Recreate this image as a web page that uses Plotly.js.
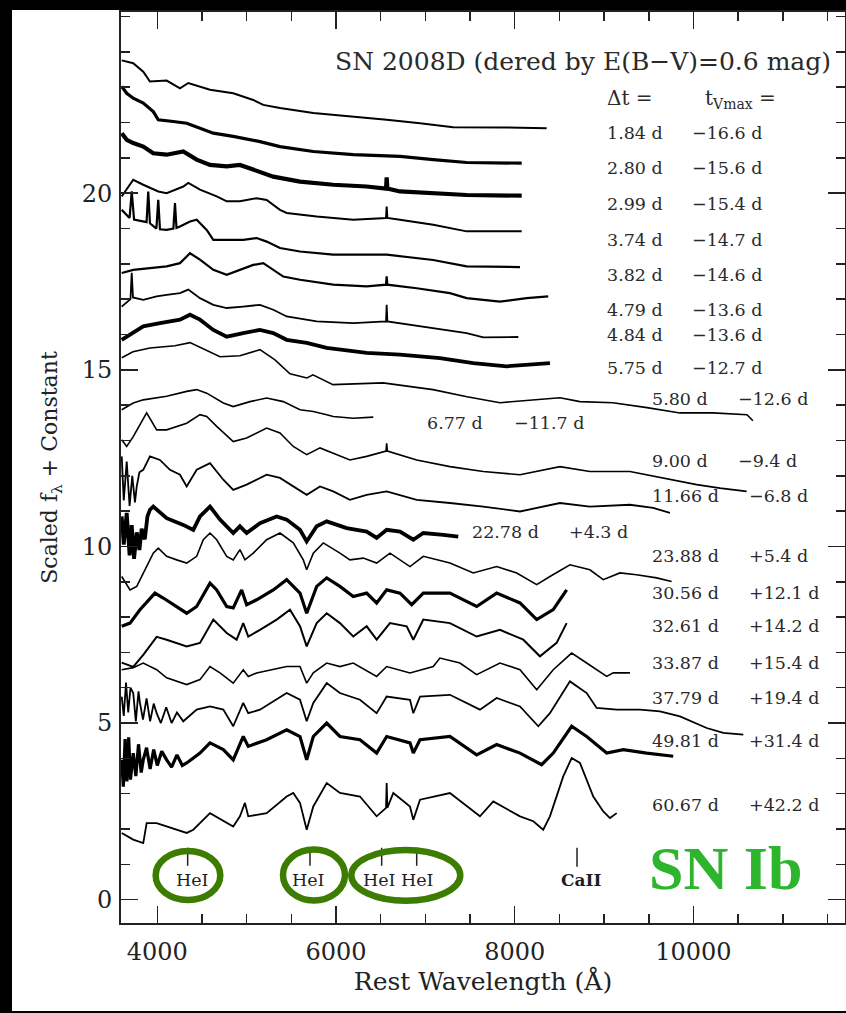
<!DOCTYPE html>
<html>
<head>
<meta charset="utf-8">
<script src="https://cdn.plot.ly/plotly-3.0.1.min.js"></script>
<style>
  html, body { margin: 0; padding: 0; background: #000; }
  #plot { position: absolute; left: 12px; top: 10px; width: 834px; height: 1001px; background: #fff; }
</style>
</head>
<body>
<div id="plot"></div>
<script>
// ---- spectra: rest wavelength (Å) and scaled flux + constant ----
const w_1_84 = [3602,3731,3843,3918,4105,4254,4347,4590,4850,5074,5186,5373,5746,6193,6567,6940,7312,7900,8357];
const f_1_84 = [23.76,23.68,23.44,23.16,23.19,22.97,23.12,22.93,22.83,22.64,22.50,22.41,22.27,22.17,22.08,21.98,21.87,21.86,21.84];

const w_2_80 = [3602,3658,3731,3843,3955,4011,4179,4329,4478,4627,4850,5149,5373,5746,6193,6716,7088,7462,8078];
const f_2_80 = [23.02,22.83,22.69,22.55,22.31,22.08,22.03,21.98,21.84,21.70,21.61,21.46,21.32,21.18,21.09,21.04,20.95,20.87,20.85];

const w_2_99 = [3602,3658,3731,3843,3955,4105,4291,4441,4590,4777,4925,5149,5298,5597,5969,6343,6560,6567,6575,6716,7088,7462,8078];
const f_2_99 = [21.70,21.51,21.42,21.32,21.13,21.09,21.18,20.95,20.80,20.76,20.80,20.61,20.47,20.33,20.24,20.19,20.13,20.45,20.13,20.05,20.00,19.95,19.93];

const w_3_74 = [3602,3676,3731,3843,4011,4105,4291,4347,4478,4665,4777,4925,5112,5224,5373,5448,5784,6193,6560,6567,6575,6716,7088,7462,8078];
const f_3_74 = [19.91,20.19,20.38,20.24,20.05,20.00,20.19,20.29,20.10,19.91,19.77,19.77,19.86,19.81,19.53,19.44,19.34,19.25,19.30,19.62,19.30,19.25,19.11,18.92,18.92];

const w_3_82 = [3602,3690,3714,3740,3880,3899,3918,3990,4011,4030,4105,4180,4198,4215,4254,4366,4441,4553,4627,4777,4962,5112,5224,5373,5597,5969,6343,6567,7088,7462,8059];
const f_3_82 = [19.53,19.30,20.05,19.25,19.18,20.05,19.15,19.00,19.81,18.98,18.96,19.00,19.72,19.02,19.06,19.20,19.25,18.96,18.68,18.68,18.68,18.73,18.63,18.45,18.35,18.26,18.26,18.26,18.11,17.93,17.91];

const w_4_79 = [3602,3731,3918,4105,4254,4366,4478,4627,4777,4925,5074,5186,5298,5410,5597,5969,6343,6560,6567,6575,6903,7275,7462,7835,8134,8375];
const f_4_79 = [17.74,17.83,17.88,17.93,18.02,18.30,18.12,17.83,17.69,17.83,17.97,18.02,17.83,17.64,17.55,17.41,17.36,17.41,17.65,17.41,17.31,17.17,17.03,16.93,17.03,17.08];

const w_4_84 = [3602,3700,3714,3728,3843,3993,4105,4254,4347,4478,4627,4777,4962,5149,5298,5448,5784,6193,6560,6567,6575,7088,7462,7648,8040];
const f_4_84 = [16.79,17.00,17.75,17.05,16.98,17.08,17.12,17.17,17.27,17.03,16.84,16.75,16.79,16.84,16.70,16.51,16.37,16.32,16.37,16.84,16.37,16.18,16.04,15.92,15.93];

const w_5_75 = [3602,3731,3843,4030,4254,4366,4478,4627,4777,4962,5149,5298,5448,5672,5896,6343,6716,7163,7536,7910,8394];
const f_5_75 = [15.85,16.04,16.23,16.32,16.42,16.56,16.42,16.13,15.94,16.04,16.13,16.04,15.85,15.76,15.62,15.48,15.43,15.33,15.19,15.10,15.19];

const w_5_80 = [3602,3728,3918,4198,4366,4534,4702,4925,5149,5317,5485,5675,5742,5966,6526,7085,7466,7835,8204,8506,8730,9099,9480,9849,10218,10599,10665];
const f_5_80 = [15.34,15.51,15.62,15.68,15.77,15.57,15.37,15.40,15.57,15.28,14.89,14.77,14.86,14.58,14.63,14.44,14.24,14.07,14.15,14.21,14.10,14.07,13.93,13.78,13.78,13.73,13.56];

const w_6_77 = [3602,3731,3843,4105,4329,4441,4553,4739,4850,5037,5224,5410,5597,5746,5896,5969,6193,6417];
const f_6_77 = [13.87,14.06,14.15,14.25,14.39,14.44,14.34,14.06,13.96,14.10,14.20,14.10,13.87,13.82,13.73,13.68,13.63,13.66];

const w_9_00 = [3602,3658,3731,3843,3881,3993,4105,4329,4478,4553,4665,4850,5000,5224,5373,5522,5672,5821,5969,6156,6343,6560,6567,6575,6903,7275,7648,8059,8506,8841,9289,9662,10036,10296,10595];
const f_9_00 = [13.02,12.83,13.11,13.59,13.78,13.30,13.30,13.49,13.73,13.68,13.40,12.97,13.07,13.35,13.21,12.83,12.60,12.79,12.64,12.45,12.55,12.70,12.92,12.70,12.45,12.26,12.12,12.03,12.26,12.12,12.12,11.94,11.75,11.65,11.56];

const w_11_66 = [3602,3625,3658,3690,3720,3750,3770,3800,3843,3880,3918,4030,4142,4254,4329,4441,4590,4739,4850,5000,5224,5373,5522,5672,5821,5969,6156,6343,6567,6903,7275,7648,8059,8506,8841,9289,9550,9737];
const f_11_66 = [12.55,11.30,12.40,11.15,12.00,11.25,11.70,12.10,12.17,12.35,12.55,12.45,12.17,12.03,11.70,12.17,12.36,11.89,11.60,11.75,12.03,11.94,11.70,11.46,11.70,11.56,11.32,11.46,11.56,11.32,11.23,11.13,10.99,11.23,11.13,11.18,11.09,10.95];

const w_22_78 = [3602,3625,3658,3690,3714,3740,3770,3800,3825,3860,3890,3918,3955,4105,4291,4403,4478,4590,4702,4850,4925,5000,5149,5336,5448,5597,5672,5784,5896,6119,6343,6455,6567,6716,6865,6977,7200,7368];
const f_22_78 = [10.85,10.05,10.95,9.75,10.60,9.65,10.40,9.90,10.50,10.20,10.85,11.04,11.13,10.80,10.61,10.47,10.85,11.13,10.76,10.38,10.57,10.38,10.66,10.85,10.76,10.47,10.14,10.57,10.71,10.52,10.42,10.24,10.47,10.42,10.19,10.38,10.33,10.28];

const w_23_88 = [3602,3695,3770,3843,3955,4011,4105,4217,4329,4441,4515,4590,4665,4777,4850,4925,4981,5074,5224,5373,5522,5634,5672,5746,5858,6044,6156,6305,6455,6604,6828,6977,7275,7536,7798,8022,8246,8394,8618,8841,8991,9177,9364,9588,9756];
const f_23_88 = [9.15,8.77,8.87,9.25,9.81,9.95,9.72,9.62,9.53,9.72,10.19,10.38,10.19,9.72,9.62,9.91,9.62,9.81,10.19,10.38,10.10,9.62,9.34,9.81,10.10,9.81,9.62,9.67,9.53,9.81,9.43,9.72,9.53,9.25,9.43,9.25,8.92,9.15,9.48,9.34,9.06,9.25,9.20,9.11,9.01];

const w_30_56 = [3602,3695,3806,3974,4067,4179,4329,4441,4553,4590,4665,4777,4850,4944,5000,5112,5298,5448,5597,5672,5784,5896,6044,6193,6343,6455,6567,6716,6847,6977,7275,7574,7798,8059,8246,8431,8581];
const f_30_56 = [7.74,7.83,8.21,8.68,8.54,8.35,8.11,8.30,8.77,8.96,8.77,8.30,8.26,8.77,8.35,8.49,8.77,9.06,8.68,8.11,8.87,9.11,8.87,8.58,8.68,8.40,8.77,8.68,8.35,8.68,8.68,8.30,8.68,8.40,7.93,8.21,8.77];

const w_32_61 = [3602,3731,3843,3993,4105,4329,4478,4627,4777,4888,4962,5018,5149,5336,5485,5597,5672,5784,5896,6044,6193,6343,6455,6604,6791,6865,6977,7275,7574,7835,8096,8282,8469,8581];
const f_32_61 = [6.71,6.59,6.93,7.44,7.36,7.17,7.27,7.93,7.55,7.36,7.83,7.45,7.64,7.93,8.21,7.74,7.17,7.83,8.11,7.83,7.45,7.74,7.36,7.83,7.74,7.36,7.93,7.83,7.45,7.64,7.36,6.89,7.27,7.83];

const w_33_87 = [3602,3731,3843,3993,4105,4329,4478,4590,4702,4850,4962,5018,5112,5448,5597,5672,5746,5896,6044,6193,6455,6567,6828,7088,7163,7387,7574,7835,8059,8246,8431,8637,8805,9029,9103,9290];
const f_33_87 = [6.51,6.57,6.70,6.51,6.28,6.09,6.23,6.60,6.42,6.13,6.51,6.32,6.42,6.60,6.60,6.13,6.42,6.70,6.60,6.70,6.32,6.60,6.42,6.60,6.84,6.70,6.37,6.70,6.51,5.94,6.51,6.98,6.70,6.32,6.42,6.42];

const w_37_79 = [3602,3625,3650,3675,3700,3731,3760,3790,3806,3840,3880,3920,3960,3993,4040,4100,4160,4220,4291,4441,4590,4739,4850,4962,5018,5149,5448,5597,5672,5746,5896,6044,6268,6455,6567,6828,6865,6940,7275,7611,7798,8059,8264,8394,8618,8805,8917,9141,9402,9625,9849,10148,10334,10558];
const f_37_79 = [5.75,5.20,6.15,5.30,6.00,5.85,5.05,5.90,5.57,5.10,5.70,5.05,5.55,5.28,5.00,5.45,5.00,5.30,5.05,5.38,5.47,5.38,4.91,5.57,5.28,5.38,5.85,5.66,5.05,5.57,6.13,5.85,5.66,5.28,5.75,5.66,5.28,5.75,5.80,5.38,5.71,5.47,4.91,5.28,6.18,5.85,5.43,5.38,5.38,5.33,5.19,4.86,4.72,4.67];

const w_49_81 = [3602,3620,3640,3660,3680,3700,3731,3760,3790,3820,3843,3880,3920,3960,4000,4050,4105,4160,4220,4280,4329,4478,4590,4739,4850,4962,5018,5224,5448,5597,5672,5746,5896,6044,6268,6455,6567,6828,6865,6940,7275,7574,7798,8059,8301,8431,8637,8805,9029,9215,9477,9774];
const f_49_81 = [3.96,3.20,4.55,3.35,4.60,3.40,4.15,3.50,4.40,3.60,3.96,4.30,3.70,4.25,3.80,4.20,3.96,3.75,4.10,3.80,3.87,4.15,4.44,4.25,3.96,4.62,4.34,4.53,4.81,4.62,3.96,4.62,5.00,4.62,4.53,4.15,4.62,4.44,4.15,4.53,4.62,4.10,4.39,4.15,3.82,4.15,4.91,4.62,4.15,4.25,4.15,4.06];

const w_60_67 = [3602,3731,3843,3881,3993,4105,4329,4403,4590,4850,4925,4981,5018,5224,5448,5522,5597,5672,5746,5896,6044,6268,6455,6560,6567,6575,6641,6828,6865,6940,7275,7611,7760,8059,8208,8319,8394,8543,8637,8730,8879,8991,9066,9141];
const f_60_67 = [1.89,1.70,1.60,2.17,2.17,2.07,1.89,1.98,2.45,2.07,2.36,2.74,2.36,2.45,2.92,3.02,2.74,1.98,2.64,3.30,3.02,2.92,2.36,2.60,3.30,2.60,3.02,2.64,2.26,2.83,3.02,2.36,2.78,2.36,2.22,1.98,2.36,3.49,4.01,3.87,2.92,2.50,2.31,2.45];

// ---- epoch labels ----
const dtLabels = ['1.84 d','2.80 d','2.99 d','3.74 d','3.82 d','4.79 d','4.84 d','5.75 d','5.80 d','6.77 d',
                  '9.00 d','11.66 d','22.78 d','23.88 d','30.56 d','32.61 d','33.87 d','37.79 d','49.81 d','60.67 d'];
const tmaxLabels = ['\u221216.6 d','\u221215.6 d','\u221215.4 d','\u221214.7 d','\u221214.6 d','\u221213.6 d','\u221213.6 d','\u221212.7 d','\u221212.6 d','\u221211.7 d',
                    '\u22129.4 d','\u22126.8 d','+4.3 d','+5.4 d','+12.1 d','+14.2 d','+15.4 d','+19.4 d','+31.4 d','+42.2 d'];

// ---- line identifications ----
const lineNames = ['HeI','HeI','HeI','HeI','CaII'];
const lineWaves = [4340, 5709, 6511, 6903, 8697];

// ---- axis ticks ----
const xTickVals = [4000, 6000, 8000, 10000];
const xTickText = ['4000', '6000', '8000', '10000'];
const yTickVals = [0, 5, 10, 15, 20];

// ================= drawing =================
const spectra = [
  [w_1_84, f_1_84], [w_2_80, f_2_80], [w_2_99, f_2_99], [w_3_74, f_3_74], [w_3_82, f_3_82],
  [w_4_79, f_4_79], [w_4_84, f_4_84], [w_5_75, f_5_75], [w_5_80, f_5_80], [w_6_77, f_6_77],
  [w_9_00, f_9_00], [w_11_66, f_11_66], [w_22_78, f_22_78], [w_23_88, f_23_88], [w_30_56, f_30_56],
  [w_32_61, f_32_61], [w_33_87, f_33_87], [w_37_79, f_37_79], [w_49_81, f_49_81], [w_60_67, f_60_67]
];
const lineWidths = [2.0,3.2,4.2,2.0,2.2, 2.2,1.8,3.8,1.6,1.6, 1.6,1.8,3.8,1.6,3.2, 2.0,1.6,1.8,3.2,1.8];

const traces = spectra.map((s, i) => ({
  type: 'scatter', mode: 'lines', x: s[0], y: s[1],
  line: { color: '#000', width: lineWidths[i] }, hoverinfo: 'skip', showlegend: false
}));

// label placement (layout)
const labX1 = [9010,9010,9010,9010,9010,9010,9010,9010,9511,6996,9511,9511,7499,9511,9511,9511,9511,9511,9511,9511];
const labX2 = [9960,9960,9960,9960,9960,9960,9960,9960,10475,7966,10475,10595,8588,10595,10595,10595,10595,10595,10595,10595];
const labY  = [21.70,20.71,19.70,18.68,17.69,16.70,15.99,15.05,14.17,13.49,12.41,11.42,10.40,9.72,8.68,7.74,6.70,5.71,4.48,2.69];

const serif = 'DejaVu Serif, serif';
const txtColor = '#2a2a2a';
const annotations = [];
dtLabels.forEach((t, i) => {
  annotations.push({ x: labX1[i], y: labY[i], xref: 'x', yref: 'y', text: t, showarrow: false,
    xanchor: 'left', yanchor: 'middle', font: { family: serif, size: 17.5, color: txtColor } });
  annotations.push({ x: labX2[i], y: labY[i], xref: 'x', yref: 'y', text: tmaxLabels[i], showarrow: false,
    xanchor: 'left', yanchor: 'middle', font: { family: serif, size: 17.5, color: txtColor } });
});
annotations.push({ x: 11561, y: 23.72, xref: 'x', yref: 'y', text: 'SN 2008D (dered by E(B\u2212V)=0.6 mag)',
  showarrow: false, xanchor: 'right', yanchor: 'middle', font: { family: serif, size: 25, color: txtColor } });
annotations.push({ x: 9010, y: 22.69, xref: 'x', yref: 'y', text: '\u0394t =', showarrow: false,
  xanchor: 'left', yanchor: 'middle', font: { family: serif, size: 20, color: txtColor } });
annotations.push({ x: 10105, y: 22.66, xref: 'x', yref: 'y', text: 't<sub>Vmax</sub> =', showarrow: false,
  xanchor: 'left', yanchor: 'middle', font: { family: serif, size: 20, color: txtColor } });

const lineTextX = [4394, 5687, 6492, 6917, 8737];
lineNames.forEach((n, i) => {
  annotations.push({ x: lineTextX[i], y: 0.57, xref: 'x', yref: 'y', text: n, showarrow: false,
    xanchor: 'center', yanchor: 'middle',
    font: { family: serif, size: n === 'CaII' ? 17 : 17.5, color: '#1e1e1e', weight: n === 'CaII' ? 'bold' : 'normal' } });
});
annotations.push({ x: 10359, y: 0.91, xref: 'x', yref: 'y', text: 'SN Ib', showarrow: false,
  xanchor: 'center', yanchor: 'middle',
  font: { family: 'Liberation Serif, serif', size: 62, color: '#2db52d', weight: 'bold' } });

const shapes = [];
lineWaves.forEach((w, i) => {
  shapes.push({ type: 'line', xref: 'x', yref: 'y', x0: w, x1: w, y0: i === 4 ? 0.93 : 0.96, y1: 1.47,
    line: { color: '#222', width: 1.5 } });
});
const ringColor = '#3c7c00';
shapes.push({ type: 'circle', xref: 'x', yref: 'y', x0: 3982, x1: 4705, y0: -0.01, y1: 1.38, line: { color: ringColor, width: 6.5 } });
shapes.push({ type: 'circle', xref: 'x', yref: 'y', x0: 5407, x1: 6100, y0: -0.02, y1: 1.42, line: { color: ringColor, width: 6.5 } });
shapes.push({ type: 'circle', xref: 'x', yref: 'y', x0: 6171, x1: 7391, y0: -0.03, y1: 1.41, line: { color: ringColor, width: 6.5 } });

const axisCommon = {
  showline: true, linecolor: '#222', linewidth: 2, mirror: 'ticks',
  ticks: 'inside', ticklen: 17, tickwidth: 1.5, tickcolor: '#222',
  showgrid: false, zeroline: false, automargin: false,
  tickfont: { family: serif, size: 24, color: '#222' }
};

const layout = {
  width: 834, height: 1001,
  margin: { l: 109, r: 1, t: 2, b: 88, pad: 0 },
  paper_bgcolor: '#fff', plot_bgcolor: '#fff',
  showlegend: false, hovermode: false,
  xaxis: Object.assign({}, axisCommon, {
    range: [3594, 11696], tickmode: 'array', tickvals: xTickVals, ticktext: xTickText,
    ticklabelstandoff: 6,
    minor: { dtick: 500, tick0: 0, ticks: 'inside', ticklen: 9, tickwidth: 1.5, tickcolor: '#222' },
    title: { text: 'Rest Wavelength (\u00c5)', standoff: 3, font: { family: serif, size: 25, color: '#222' } }
  }),
  yaxis: Object.assign({}, axisCommon, {
    range: [-0.66, 25.13], tickmode: 'array', tickvals: yTickVals,
    ticklabelstandoff: 2,
    minor: { dtick: 1, tick0: 0, ticks: 'inside', ticklen: 9, tickwidth: 1.5, tickcolor: '#222' },
    title: { text: 'Scaled f<sub>\u03bb</sub> + Constant', standoff: 18, font: { family: serif, size: 22, color: '#222' } }
  }),
  annotations: annotations,
  shapes: shapes
};

Plotly.newPlot('plot', traces, layout, { staticPlot: true, displayModeBar: false });
</script>
</body>
</html>
